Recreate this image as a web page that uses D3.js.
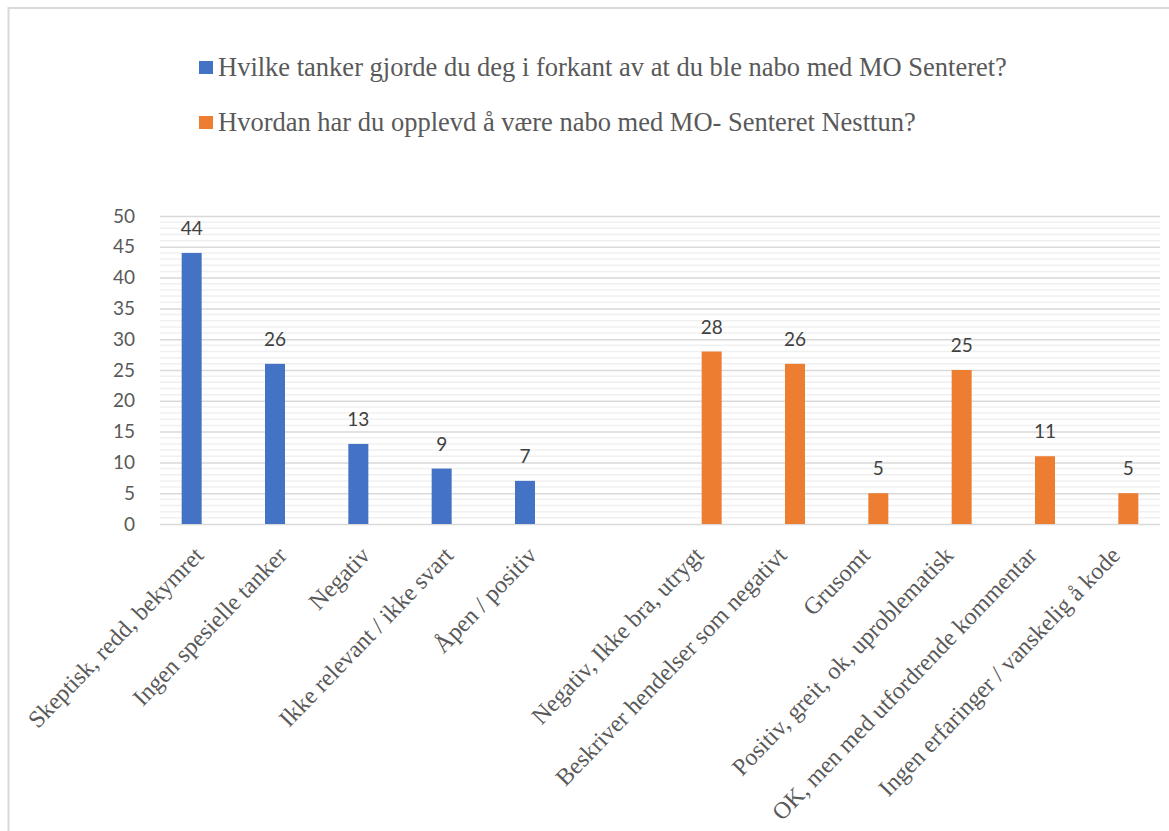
<!DOCTYPE html>
<html>
<head>
<meta charset="utf-8">
<script src="https://cdn.jsdelivr.net/npm/d3@7"></script>
<style>
  body { margin: 0; background: #fff; }
  svg { display: block; }
</style>
</head>
<body>
<svg id="chart"></svg>
<script>
// categories (index 5 is the empty gap between the two questions)
const categories = [
  "Skeptisk, redd, bekymret",
  "Ingen spesielle tanker",
  "Negativ",
  "Ikke relevant / ikke svart",
  "Åpen / positiv",
  "",
  "Negativ, Ikke bra, utrygt",
  "Beskriver hendelser som negativt",
  "Grusomt",
  "Positiv, greit, ok, uproblematisk",
  "OK, men med utfordrende kommentar",
  "Ingen erfaringer / vanskelig å kode"
];
const seriesNames = [
  "Hvilke tanker gjorde du deg i forkant av at du ble nabo med MO Senteret?",
  "Hvordan har du opplevd å være nabo med MO- Senteret Nesttun?"
];
const seriesBefore = [44, 26, 13, 9, 7, null, null, null, null, null, null, null];
const seriesAfter  = [null, null, null, null, null, null, 28, 26, 5, 25, 11, 5];
const colors = ["#4472c4", "#ed7d31"];
const yTicks = [0, 5, 10, 15, 20, 25, 30, 35, 40, 45, 50];

const W = 1169, H = 831;
const margin = { top: 216, left: 160, right: 9, bottom: 307 };

const svg = d3.select('#chart').attr('width', W).attr('height', H);

// chart frame
svg.append('rect')
  .attr('x', 8.5).attr('y', 8).attr('width', W + 20).attr('height', H + 20)
  .attr('fill', 'none').attr('stroke', '#d9d9d9').attr('stroke-width', 2);

const x0 = d3.scaleBand()
  .domain(d3.range(categories.length))
  .range([margin.left, W - margin.right])
  .paddingInner(0.52).paddingOuter(0.26);

const x1 = d3.scaleBand()
  .domain([0, 1])
  .range([0, x0.bandwidth()]);

const y = d3.scaleLinear()
  .domain([0, 50])
  .range([H - margin.bottom, margin.top]);

// minor grid
svg.append('g')
  .selectAll('line')
  .data(d3.range(0, 51).filter(v => v % 5 !== 0))
  .enter().append('line')
  .attr('x1', margin.left).attr('x2', W - margin.right)
  .attr('y1', d => y(d)).attr('y2', d => y(d))
  .attr('stroke', '#f0f0f0').attr('stroke-width', 1.5);

// major grid + y axis
const yAxis = d3.axisLeft(y).tickValues(yTicks).tickSize(-(W - margin.right - margin.left)).tickPadding(25);
svg.append('g')
  .attr('transform', `translate(${margin.left},0)`)
  .call(yAxis)
  .call(g => g.select('.domain').remove())
  .call(g => g.selectAll('line').attr('stroke', '#d9d9d9').attr('stroke-width', 1.5))
  .call(g => g.selectAll('text')
    .attr('fill', '#595959')
    .style('font-family', 'Lato, "Open Sans", sans-serif')
    .style('font-size', '19px'));

// bars
const seriesData = [seriesBefore, seriesAfter];
seriesData.forEach((vals, s) => {
  const pts = vals.map((v, i) => ({ i: i, v: v })).filter(d => d.v !== null);
  const g = svg.append('g');
  g.selectAll('rect')
    .data(pts)
    .enter().append('rect')
    .attr('x', d => x0(d.i) + x1(s))
    .attr('width', x1.bandwidth())
    .attr('y', d => y(d.v))
    .attr('height', d => y(0) - y(d.v))
    .attr('fill', colors[s]);
  g.selectAll('text')
    .data(pts)
    .enter().append('text')
    .attr('x', d => x0(d.i) + x1(s) + x1.bandwidth() / 2)
    .attr('y', d => y(d.v) - 18)
    .attr('text-anchor', 'middle')
    .attr('fill', '#404040')
    .style('font-family', 'Lato, "Open Sans", sans-serif')
    .style('font-size', '19px')
    .text(d => d.v);
});

// category labels
svg.append('g')
  .selectAll('text')
  .data(categories.map((c, i) => ({ c: c, i: i })))
  .enter().append('text')
  .attr('transform', d => `translate(${x0(d.i) + x0.bandwidth() / 2 - 9},${y(0) + 21}) rotate(-46)`)
  .attr('text-anchor', 'end')
  .attr('dy', '0.7em')
  .attr('fill', '#595959')
  .style('font-family', '"Liberation Serif", "Times New Roman", serif')
  .style('font-size', '24px')
  .text(d => d.c);

// legend
const legend = svg.append('g');
const legendItems = legend.selectAll('g')
  .data(seriesNames)
  .enter().append('g')
  .attr('transform', (d, i) => `translate(199, ${61 + i * 55})`);
legendItems.append('rect')
  .attr('width', 14).attr('height', 13)
  .attr('fill', (d, i) => colors[i]);
legendItems.append('text')
  .attr('x', 19).attr('y', 15)
  .attr('fill', '#595959')
  .style('font-family', '"Liberation Serif", "Times New Roman", serif')
  .style('font-size', '26.5px')
  .text(d => d);
</script>
</body>
</html>
